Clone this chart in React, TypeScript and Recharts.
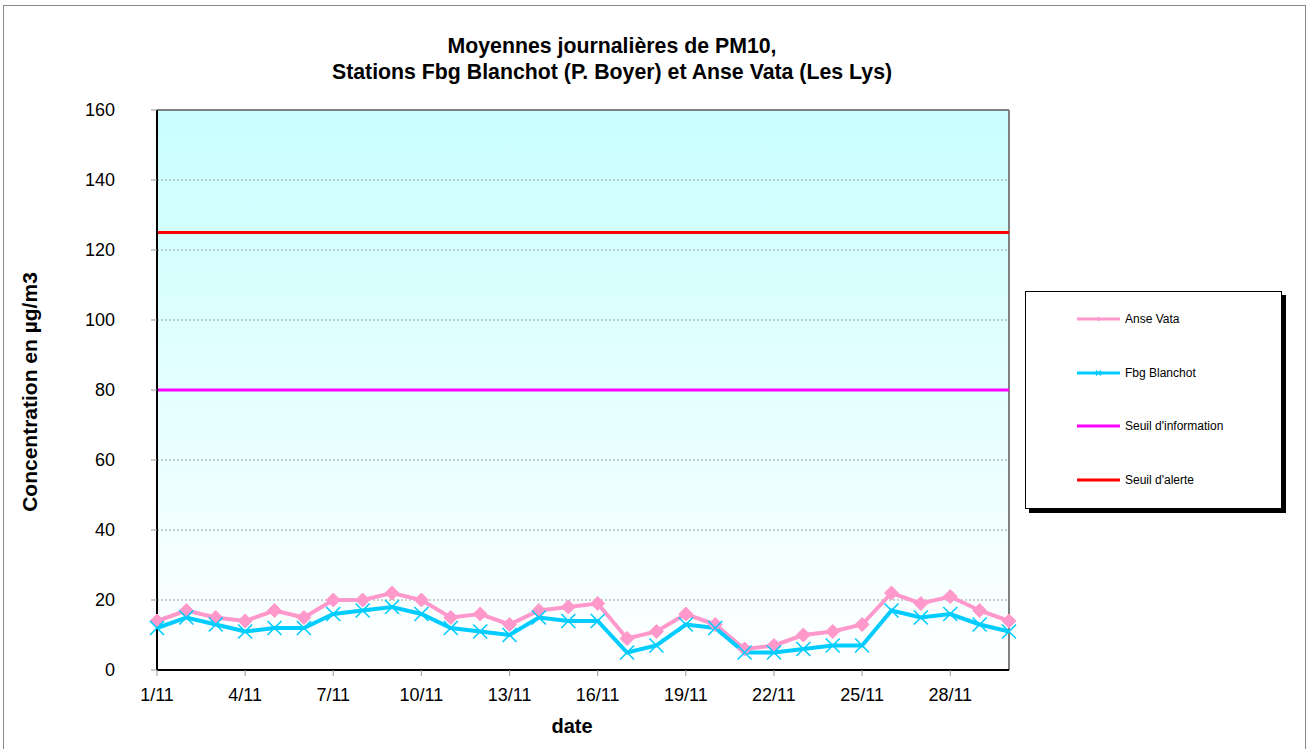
import React from 'react';
import { LineChart, Line, XAxis, YAxis, CartesianGrid, ReferenceLine } from 'recharts';

const dates = ['1/11','2/11','3/11','4/11','5/11','6/11','7/11','8/11','9/11','10/11','11/11','12/11','13/11','14/11','15/11','16/11','17/11','18/11','19/11','20/11','21/11','22/11','23/11','24/11','25/11','26/11','27/11','28/11','29/11','30/11'];
const anseVata = [14,17,15,14,17,15,20,20,22,20,15,16,13,17,18,19,9,11,16,13,6,7,10,11,13,22,19,21,17,14];
const fbgBlanchot = [12,15,13,11,12,12,16,17,18,16,12,11,10,15,14,14,5,7,13,12,5,5,6,7,7,17,15,16,13,11];
const yTicks = [0,20,40,60,80,100,120,140,160];
const yMax = 160;
const seuilInformation = 80;
const seuilAlerte = 125;

const titleLines = ['Moyennes journalières de PM10,', 'Stations Fbg Blanchot (P. Boyer) et Anse Vata (Les Lys)'];
const yLabel = 'Concentration en µg/m3';
const xLabel = 'date';

const PINK = '#FF99CC';
const BLUE = '#00CCFF';
const MAGENTA = '#FF00FF';
const RED = '#FF0000';
const FONT = '"Liberation Sans", Arial, sans-serif';

const legendItems = [
  { name: 'Anse Vata', color: PINK, marker: 'diamond' },
  { name: 'Fbg Blanchot', color: BLUE, marker: 'x' },
  { name: "Seuil d'information", color: MAGENTA, marker: 'none' },
  { name: "Seuil d'alerte", color: RED, marker: 'none' },
];

const data = dates.map((d, i) => ({ date: d, anse: anseVata[i], fbg: fbgBlanchot[i] }));

const Diamond = (props: any) => {
  const { cx, cy } = props;
  if (cx == null || cy == null) return null;
  const r = 7;
  return <path d={`M${cx},${cy - r}L${cx + r},${cy}L${cx},${cy + r}L${cx - r},${cy}Z`} fill={PINK} stroke={PINK} />;
};

const XMark = (props: any) => {
  const { cx, cy } = props;
  if (cx == null || cy == null) return null;
  const r = 7;
  return (
    <path d={`M${cx - r},${cy - r}L${cx + r},${cy + r}M${cx - r},${cy + r}L${cx + r},${cy - r}`} stroke={BLUE} strokeWidth={1.6} fill="none" />
  );
};

export default function App() {
  return (
    <div style={{ position: 'absolute', left: 0, top: 0, width: 1309, height: 749, background: '#fff', overflow: 'hidden' }}>
      <div style={{ position: 'absolute', left: 3, top: 5, width: 1301, height: 744, borderTop: '1px solid #888', borderLeft: '1px solid #888', borderRight: '1px solid #888' }} />
      <div style={{ position: 'absolute', left: 0, top: 0 }}>
        <LineChart width={1309} height={749} data={data} margin={{ top: 110, right: 300, bottom: 49, left: 0 }}>
          <defs>
            <linearGradient id="plotBg" x1="0" y1="0" x2="0" y2="1">
              <stop offset="0%" stopColor="#C9FFFF" />
              <stop offset="100%" stopColor="#FFFFFF" />
            </linearGradient>
          </defs>
          <CartesianGrid vertical={false} horizontal={true} fill="url(#plotBg)" stroke="#9a9a9a" strokeDasharray="2 2" fillOpacity={1} />
          <XAxis
            dataKey="date"
            interval={2}
            height={30}
            tickSize={6}
            tickMargin={12}
            axisLine={{ stroke: '#000', strokeWidth: 2 }}
            tickLine={{ stroke: '#999' }}
            tick={{ fill: '#000', fontSize: 18, fontFamily: FONT }}
          />
          <YAxis
            domain={[0, yMax]}
            ticks={yTicks}
            width={157}
            tickSize={6}
            tickMargin={36}
            axisLine={{ stroke: '#000', strokeWidth: 2 }}
            tickLine={{ stroke: '#999' }}
            tick={{ fill: '#000', fontSize: 18, fontFamily: FONT }}
          />
          <ReferenceLine y={yMax} stroke="#808080" strokeWidth={2} />
          <ReferenceLine x={dates[dates.length - 1]} stroke="#808080" strokeWidth={2} />
          <ReferenceLine y={seuilInformation} stroke={MAGENTA} strokeWidth={3} />
          <ReferenceLine y={seuilAlerte} stroke={RED} strokeWidth={3} />
          <Line dataKey="anse" stroke={PINK} strokeWidth={4} dot={<Diamond />} activeDot={false} isAnimationActive={false} />
          <Line dataKey="fbg" stroke={BLUE} strokeWidth={4} dot={<XMark />} activeDot={false} isAnimationActive={false} />
        </LineChart>
      </div>
      <svg width={1309} height={749} style={{ position: 'absolute', left: 0, top: 0, pointerEvents: 'none' }}>
        <text x={612} y={53} textAnchor="middle" fontFamily={FONT} fontWeight="bold" fontSize={21.3} fill="#000">{titleLines[0]}</text>
        <text x={612} y={79} textAnchor="middle" fontFamily={FONT} fontWeight="bold" fontSize={21.3} fill="#000">{titleLines[1]}</text>
        <text x={37} y={392} transform="rotate(-90 37 392)" textAnchor="middle" fontFamily={FONT} fontWeight="bold" fontSize={21} fill="#000">{yLabel}</text>
        <text x={572} y={733} textAnchor="middle" fontFamily={FONT} fontWeight="bold" fontSize={20} fill="#000">{xLabel}</text>
      </svg>
      <div style={{ position: 'absolute', left: 1025, top: 291, width: 255, height: 216, border: '1px solid #000', background: '#fff', boxShadow: '4px 4px 0 #000' }}>
        {legendItems.map((it, i) => {
          const cy = 27 + i * 53.7;
          return (
            <div key={it.name} style={{ position: 'absolute', left: 51, top: cy - 10, height: 20, display: 'flex', alignItems: 'center' }}>
              <svg width={44} height={20} style={{ display: 'block' }}>
                <line x1={0} y1={10} x2={43} y2={10} stroke={it.color} strokeWidth={3} />
                {it.marker === 'diamond' && <path d="M21.5,7.5L24,10L21.5,12.5L19,10Z" fill={it.color} />}
                {it.marker === 'x' && <path d="M19,7.5L24,12.5M19,12.5L24,7.5" stroke={it.color} strokeWidth={1.2} />}
              </svg>
              <span style={{ marginLeft: 4, fontFamily: FONT, fontSize: 12, color: '#000', whiteSpace: 'nowrap' }}>{it.name}</span>
            </div>
          );
        })}
      </div>
    </div>
  );
}
